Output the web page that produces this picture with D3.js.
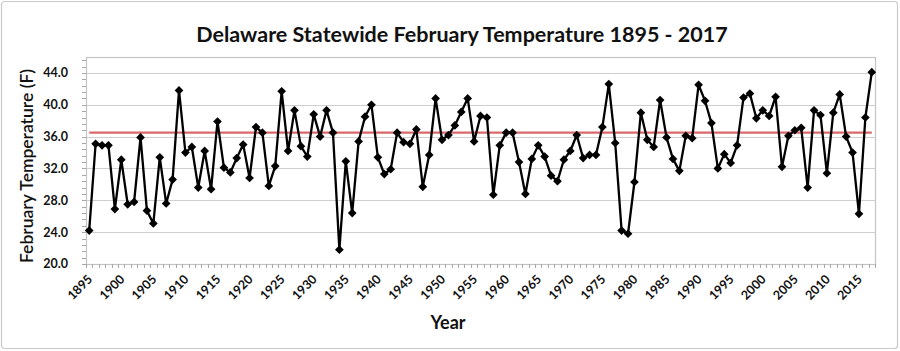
<!DOCTYPE html>
<html>
<head>
<meta charset="utf-8">
<script src="https://cdn.jsdelivr.net/npm/d3@7/dist/d3.min.js"></script>
<style>
  html, body { margin: 0; padding: 0; background: #fff; }
  svg { display: block; }
  text { font-family: Lato, "Open Sans", sans-serif; fill: #111; }
</style>
</head>
<body>
<svg id="chart" width="900" height="351"></svg>
<script>
const title = "Delaware Statewide February Temperature 1895 - 2017";
const yAxisTitle = "February Temperature (F)";
const xAxisTitle = "Year";
const years = d3.range(1895, 2018);
const temps = [
  24.2, 35.1, 34.9, 34.9, 26.9, 33.1, 27.5, 27.8, 35.9, 26.7,
  25.1, 33.4, 27.6, 30.6, 41.8, 34.0, 34.7, 29.6, 34.2, 29.4,
  37.9, 32.1, 31.5, 33.3, 35.0, 30.8, 37.2, 36.5, 29.8, 32.3,
  41.7, 34.2, 39.3, 34.8, 33.5, 38.8, 36.0, 39.3, 36.5, 21.8,
  32.9, 26.4, 35.4, 38.5, 40.0, 33.4, 31.3, 31.9, 36.5, 35.3,
  35.1, 36.9, 29.7, 33.7, 40.8, 35.6, 36.2, 37.4, 39.1, 40.8,
  35.4, 38.6, 38.4, 28.7, 34.9, 36.5, 36.5, 32.8, 28.8, 33.2,
  34.9, 33.5, 31.1, 30.4, 33.1, 34.2, 36.2, 33.3, 33.7, 33.7,
  37.2, 42.6, 35.2, 24.2, 23.8, 30.3, 39.0, 35.6, 34.7, 40.6,
  35.9, 33.2, 31.7, 36.1, 35.8, 42.5, 40.5, 37.7, 32.0, 33.8,
  32.7, 34.9, 40.9, 41.4, 38.3, 39.3, 38.6, 41.0, 32.2, 36.1,
  36.8, 37.1, 29.6, 39.3, 38.7, 31.4, 39.0, 41.3, 36.0, 34.0,
  26.3, 38.4, 44.1
];
const meanTemp = 36.5;
const yTicks = [20, 24, 28, 32, 36, 40, 44];
const xTickYears = [1895,1900,1905,1910,1915,1920,1925,1930,1935,1940,1945,1950,1955,1960,1965,1970,1975,1980,1985,1990,1995,2000,2005,2010,2015];

const svg = d3.select("#chart");
const L = 86, R = 875, T = 57, B = 264;

// outer border
svg.append("rect").attr("x", 1.5).attr("y", 1.5).attr("width", 896).attr("height", 347)
  .attr("rx", 3).attr("fill", "#fff").attr("stroke", "#c9c9c9").attr("stroke-width", 1.2);

const x = d3.scaleBand().domain(years).range([L, R]).padding(0);
const cx = d => x(d) + x.bandwidth() / 2;
const y = d3.scaleLinear().domain([20, 46]).range([B, T]);

// gridlines
svg.append("g").selectAll("line").data(yTicks.filter(v => v > 20)).join("line")
  .attr("x1", L).attr("x2", R).attr("y1", d => Math.round(y(d)) + 0.5).attr("y2", d => Math.round(y(d)) + 0.5)
  .attr("stroke", "#cfcfcf").attr("stroke-width", 1.2);

// plot frame
svg.append("rect").attr("x", L + 0.5).attr("y", T + 0.5).attr("width", R - L).attr("height", B - T)
  .attr("fill", "none").attr("stroke", "#c4c4c4").attr("stroke-width", 1.2);

// y minor ticks
const yMinor = d3.range(0, 33).map(i => 20 + i * 0.8).filter(v => v <= 46);
svg.append("g").selectAll("line").data(yMinor).join("line")
  .attr("x1", L - 4).attr("x2", L).attr("y1", d => Math.round(y(d)) + 0.5).attr("y2", d => Math.round(y(d)) + 0.5)
  .attr("stroke", "#a8a8a8").attr("stroke-width", 1);

// y axis labels
svg.append("g").selectAll("text").data(yTicks).join("text")
  .attr("x", 68).attr("y", d => y(d)).attr("dy", "0.35em")
  .attr("text-anchor", "end").attr("font-size", 12.5).attr("font-weight", 700)
  .text(d => d.toFixed(1));

// x minor ticks at category boundaries
const xBounds = years.map(d => x(d)).concat([R]);
svg.append("g").selectAll("line").data(xBounds).join("line")
  .attr("x1", d => Math.round(d) + 0.5).attr("x2", d => Math.round(d) + 0.5)
  .attr("y1", B).attr("y2", B + 4)
  .attr("stroke", "#a8a8a8").attr("stroke-width", 1);

// x axis labels
svg.append("g").selectAll("text").data(xTickYears).join("text")
  .attr("transform", d => `translate(${cx(d) + 4},${B + 16}) rotate(-45)`)
  .attr("text-anchor", "end").attr("font-size", 12.5).attr("font-weight", 700)
  .text(d => d);

// mean line
svg.append("line")
  .attr("x1", cx(years[0])).attr("x2", cx(years[years.length - 1]))
  .attr("y1", y(meanTemp)).attr("y2", y(meanTemp))
  .attr("stroke", "#d9696a").attr("stroke-width", 2.2);

// data line
const line = d3.line().x((d, i) => cx(years[i])).y(d => y(d));
svg.append("path").datum(temps).attr("d", line)
  .attr("fill", "none").attr("stroke", "#000").attr("stroke-width", 2.3).attr("stroke-linejoin", "round");

// markers
const sym = d3.symbol().type(d3.symbolSquare).size(38);
svg.append("g").selectAll("path").data(temps).join("path")
  .attr("d", sym)
  .attr("transform", (d, i) => `translate(${cx(years[i])},${y(d)}) rotate(45)`)
  .attr("fill", "#000");

// titles
svg.append("text").attr("x", 462).attr("y", 42).attr("text-anchor", "middle")
  .attr("font-size", 21.5).attr("font-weight", 700).text(title);
svg.append("text").attr("transform", `translate(33,166) rotate(-90)`).attr("text-anchor", "middle")
  .attr("font-size", 17.5).attr("font-weight", 600).text(yAxisTitle);
svg.append("text").attr("x", 448).attr("y", 329).attr("text-anchor", "middle")
  .attr("font-size", 18).attr("font-weight", 700).text(xAxisTitle);
</script>
</body>
</html>
